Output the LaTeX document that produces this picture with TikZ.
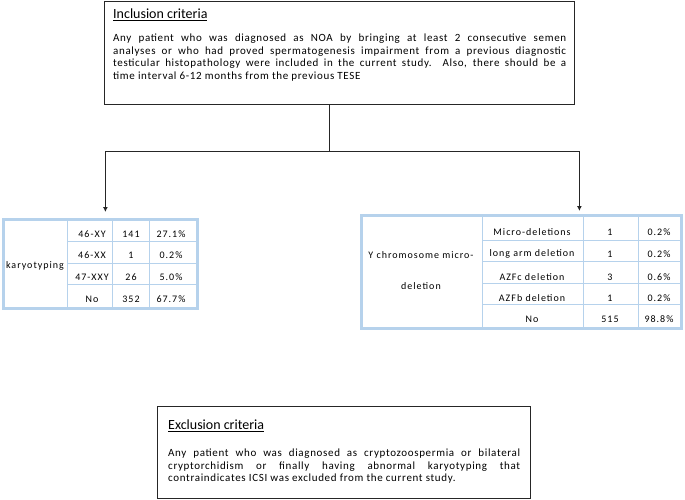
\documentclass[tikz,border=0pt]{standalone}
\usepackage{fontspec}
\setmainfont{Carlito}
\newfontfamily\bodyfont[LetterSpace=6]{Carlito}
\newfontfamily\cellfont[LetterSpace=10]{Carlito}
\usetikzlibrary{calc,arrows.meta}
\definecolor{tabblue}{RGB}{182,210,236}

\begin{document}
\begin{tikzpicture}[x=1pt,y=-1pt,
  box/.style={rectangle,draw=black!85,line width=0.9pt,inner sep=0pt},
  tab/.style={rectangle,draw=tabblue,line width=2.8pt,inner sep=0pt},
  grid/.style={draw=tabblue,line width=1pt},
  cell/.style={font=\cellfont\fontsize{10}{11}\selectfont,inner sep=0pt},
  head/.style={font=\fontsize{14}{16}\selectfont,anchor=base west,inner sep=0pt},
  body/.style={font=\bodyfont\fontsize{11}{12.5}\selectfont,align=justify,anchor=north west,inner sep=0pt},
  link/.style={draw=black!85,line width=1pt},
  arr/.style={link,-{Latex[length=5pt,width=5pt]}}]

  \useasboundingbox (0,0) rectangle (685,500);

  \node[box,minimum width=470,minimum height=103,anchor=north west] at (104,1) (b1) {};
  \node[head] at (113,18.5) (t1) {\underline{Inclusion criteria}};
  \node[body,text width=453] at (113,34) (p1) {Any patient who was diagnosed as NOA by bringing at least 2 consecutive semen\linebreak analyses or who had proved spermatogenesis impairment from a previous diagnostic\linebreak testicular histopathology were included in the current study. Also, there should be a\linebreak time interval 6-12 months from the previous TESE};

  \foreach \x in {67,112,149} \draw[grid] (\x,218) -- (\x,307);
  \foreach \y in {241,263,284} \draw[grid] (67,\y) -- (196,\y);
  \node[tab,minimum width=194,minimum height=89,anchor=north west] at (2,218) (kary) {};
  \node[cell] at (35,266) (kl) {karyotyping};
  \foreach \y/\a/\b/\c in {234/46-XY/141/27.1\%,255/46-XX/1/0.2\%,277/47-XXY/26/5.0\%,299/No/352/67.7\%} {
    \node[cell] at (92,\y) (ka\y) {\a};
    \node[cell] at (131,\y) (kb\y) {\b};
    \node[cell] at (171,\y) (kc\y) {\c};
  }

  \foreach \x in {482,583,638} \draw[grid] (\x,214) -- (\x,327);
  \foreach \y in {240,261,283,304} \draw[grid] (482,\y) -- (680,\y);
  \node[tab,minimum width=320,minimum height=113,anchor=north west] at (360,214) (ychr) {};
  \node[cell,align=center,font=\cellfont\fontsize{10}{31}\selectfont] at (421,270.5) (yl) {Y chromosome micro-\\deletion};
  \foreach \y/\a/\b/\c in {232/Micro-deletions/1/0.2\%,254/long arm deletion/1/0.2\%,277/AZFc deletion/3/0.6\%,298/AZFb deletion/1/0.2\%,319/No/515/98.8\%} {
    \node[cell] at (532,\y) (ya\y) {\a};
    \node[cell] at (610,\y) (yb\y) {\b};
    \node[cell] at (659,\y) (yc\y) {\c};
  }

  \draw[link] ([xshift=-10]b1.south) -- ++(0,47) coordinate (j1);
  \draw[arr,shorten >=6] (j1) -| ([xshift=5]kary.north);
  \draw[arr,shorten >=3] (j1) -| ([xshift=58]ychr.north);

  \node[box,minimum width=373,minimum height=92,anchor=north west] at (157,406) (b2) {};
  \node[head] at (168,429.5) (t2) {\underline{Exclusion criteria}};
  \node[body,text width=352] at (168,449) (p2) {Any patient who was diagnosed as cryptozoospermia or bilateral\linebreak cryptorchidism or finally having abnormal karyotyping that\linebreak contraindicates ICSI was excluded from the current study.};

\end{tikzpicture}
\end{document}
